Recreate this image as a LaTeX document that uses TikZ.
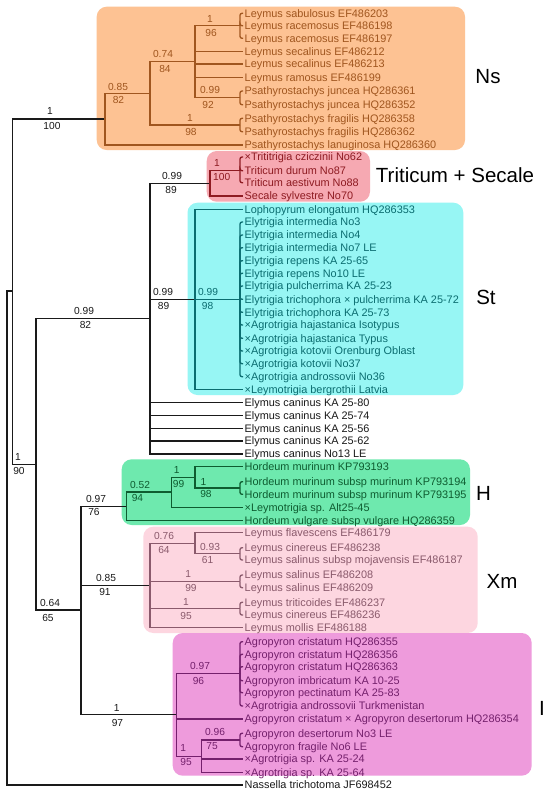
\documentclass[tikz,border=0pt]{standalone}
\usepackage{fontspec}
\setmainfont{Liberation Sans}
\definecolor{nsbox}{HTML}{FDC293}
\definecolor{nsc}{HTML}{A0561F}
\definecolor{tsbox}{HTML}{F6A9B2}
\definecolor{tsc}{HTML}{8E1B22}
\definecolor{stbox}{HTML}{97F6F4}
\definecolor{stc}{HTML}{0B6D70}
\definecolor{hbox}{HTML}{6EE9AE}
\definecolor{hc}{HTML}{0E5C30}
\definecolor{xmbox}{HTML}{FDD6E0}
\definecolor{xmc}{HTML}{8A5A6C}
\definecolor{ibox}{HTML}{EE9BDC}
\definecolor{ic}{HTML}{74206C}
\definecolor{blk}{HTML}{1A1A1A}
\tikzset{
  leaf/.style={anchor=west, inner xsep=1.5pt, inner ysep=0pt, text height=7.8pt, text depth=0pt, font=\fontsize{10.9}{12}\selectfont},
  sup/.style={inner sep=0pt, font=\fontsize{10.2}{12}\selectfont},
  clade/.style={inner sep=0pt, font=\fontsize{20.5}{24}\selectfont, text=black},
  br/.style={rounded corners=2pt},
  cbox/.style={rounded corners=10pt},
  edge/.style={line width=1.3pt}
}
\begin{document}
\begin{tikzpicture}[x=1pt,y=-1pt]
\useasboundingbox[fill=white] (0,0) rectangle (550,796);
% clade boxes
\fill[nsbox,cbox] (96.7,6.7) rectangle (465,150);
\fill[tsbox,cbox] (206.7,151) rectangle (370,201.7);
\fill[stbox,cbox] (187.5,202.7) rectangle (463.3,395);
\fill[hbox,cbox] (121.7,459.3) rectangle (470,525);
\fill[xmbox,cbox] (143.3,526.7) rectangle (477.7,633);
\fill[ibox,cbox] (172.7,633) rectangle (531.7,775.7);
% clade labels
\node[clade] (cNs) at (488,77) {Ns};
\node[clade] (cTS) at (455,175) {Triticum + Secale};
\node[clade] (cSt) at (486,297) {St};
\node[clade] (cH) at (483.5,493.3) {H};
\node[clade] (cXm) at (502,581.7) {Xm};
\node[clade] (cI) at (542,708.3) {I};
% leaves
\node[leaf,text=nsc] (l1) at (243,13.3) {Leymus sabulosus EF486203};
\node[leaf,text=nsc] (l2) at (243,25.7) {Leymus racemosus EF486198};
\node[leaf,text=nsc] (l3) at (243,38.3) {Leymus racemosus EF486197};
\node[leaf,text=nsc] (l4) at (243,51.7) {Leymus secalinus EF486212};
\node[leaf,text=nsc] (l5) at (243,64) {Leymus secalinus EF486213};
\node[leaf,text=nsc] (l6) at (243,77.3) {Leymus ramosus EF486199};
\node[leaf,text=nsc] (l7) at (243,91) {Psathyrostachys juncea HQ286361};
\node[leaf,text=nsc] (l8) at (243,104.7) {Psathyrostachys juncea HQ286352};
\node[leaf,text=nsc] (l9) at (243,118.3) {Psathyrostachys fragilis HQ286358};
\node[leaf,text=nsc] (l10) at (243,131.7) {Psathyrostachys fragilis HQ286362};
\node[leaf,text=nsc] (l11) at (243,145) {Psathyrostachys lanuginosa HQ286360};
\node[leaf,text=tsc] (l12) at (243,157) {×Trititrigia cziczinii No62};
\node[leaf,text=tsc] (l13) at (243,170.7) {Triticum durum No87};
\node[leaf,text=tsc] (l14) at (243,182.7) {Triticum aestivum No88};
\node[leaf,text=tsc] (l15) at (243,196) {Secale sylvestre No70};
\node[leaf,text=stc] (l16) at (243,209.7) {Lophopyrum elongatum HQ286353};
\node[leaf,text=stc] (l17) at (243,222) {Elytrigia intermedia No3};
\node[leaf,text=stc] (l18) at (243,235) {Elytrigia intermedia No4};
\node[leaf,text=stc] (l19) at (243,247.7) {Elytrigia intermedia No7 LE};
\node[leaf,text=stc] (l20) at (243,260.7) {Elytrigia repens KA 25-65};
\node[leaf,text=stc] (l21) at (243,273.3) {Elytrigia repens No10 LE};
\node[leaf,text=stc] (l22) at (243,286) {Elytrigia pulcherrima KA 25-23};
\node[leaf,text=stc] (l23) at (243,299.3) {Elytrigia trichophora × pulcherrima KA 25-72};
\node[leaf,text=stc] (l24) at (243,312.3) {Elytrigia trichophora KA 25-73};
\node[leaf,text=stc] (l25) at (243,325) {×Agrotrigia hajastanica Isotypus};
\node[leaf,text=stc] (l26) at (243,338.3) {×Agrotrigia hajastanica Typus};
\node[leaf,text=stc] (l27) at (243,351) {×Agrotrigia kotovii Orenburg Oblast};
\node[leaf,text=stc] (l28) at (243,363.7) {×Agrotrigia kotovii No37};
\node[leaf,text=stc] (l29) at (243,376.7) {×Agrotrigia androssovii No36};
\node[leaf,text=stc] (l30) at (243,389.3) {×Leymotrigia bergrothii Latvia};
\node[leaf,text=blk] (l31) at (243,402.7) {Elymus caninus KA 25-80};
\node[leaf,text=blk] (l32) at (243,415.7) {Elymus caninus KA 25-74};
\node[leaf,text=blk] (l33) at (243,428.3) {Elymus caninus KA 25-56};
\node[leaf,text=blk] (l34) at (243,441) {Elymus caninus KA 25-62};
\node[leaf,text=blk] (l35) at (243,454) {Elymus caninus No13 LE};
\node[leaf,text=hc] (l36) at (243,466.7) {Hordeum murinum KP793193};
\node[leaf,text=hc] (l37) at (243,481.7) {Hordeum murinum subsp murinum KP793194};
\node[leaf,text=hc] (l38) at (243,494.3) {Hordeum murinum subsp murinum KP793195};
\node[leaf,text=hc] (l39) at (243,507.3) {×Leymotrigia sp. Alt25-45};
\node[leaf,text=hc] (l40) at (243,520.3) {Hordeum vulgare subsp vulgare HQ286359};
\node[leaf,text=xmc] (l41) at (243,532.7) {Leymus flavescens EF486179};
\node[leaf,text=xmc] (l42) at (243,547.7) {Leymus cinereus EF486238};
\node[leaf,text=xmc] (l43) at (243,560) {Leymus salinus subsp mojavensis EF486187};
\node[leaf,text=xmc] (l44) at (243,575) {Leymus salinus EF486208};
\node[leaf,text=xmc] (l45) at (243,587.7) {Leymus salinus EF486209};
\node[leaf,text=xmc] (l46) at (243,602.3) {Leymus triticoides EF486237};
\node[leaf,text=xmc] (l47) at (243,615) {Leymus cinereus EF486236};
\node[leaf,text=xmc] (l48) at (243,627.7) {Leymus mollis EF486188};
\node[leaf,text=ic] (l49) at (243,641.7) {Agropyron cristatum HQ286355};
\node[leaf,text=ic] (l50) at (243,654.3) {Agropyron cristatum HQ286356};
\node[leaf,text=ic] (l51) at (243,666.7) {Agropyron cristatum HQ286363};
\node[leaf,text=ic] (l52) at (243,680.7) {Agropyron imbricatum KA 10-25};
\node[leaf,text=ic] (l53) at (243,692.7) {Agropyron pectinatum KA 25-83};
\node[leaf,text=ic] (l54) at (243,706) {×Agrotrigia androssovii Turkmenistan};
\node[leaf,text=ic] (l55) at (243,719) {Agropyron cristatum × Agropyron desertorum HQ286354};
\node[leaf,text=ic] (l56) at (243,733.3) {Agropyron desertorum No3 LE};
\node[leaf,text=ic] (l57) at (243,746.7) {Agropyron fragile No6 LE};
\node[leaf,text=ic] (l58) at (243,759) {×Agrotrigia sp. KA 25-24};
\node[leaf,text=ic] (l59) at (243,772.3) {×Agrotrigia sp. KA 25-64};
\node[leaf,text=blk] (l60) at (243,785) {Nassella trichotoma JF698452};
% internal nodes
\coordinate (root) at (7,538);
\coordinate (A) at (12.7,291);
\coordinate (nNs) at (105,119);
\coordinate (nE) at (150,93.3);
\coordinate (nF) at (195,61.7);
\coordinate (nL) at (240,25.7);
\coordinate (nJ) at (240,97.8);
\coordinate (nFr) at (240,125);
\coordinate (B) at (36,464.5);
\coordinate (C) at (150,318.7);
\coordinate (TS) at (210,183.3);
\coordinate (nT) at (240,170.7);
\coordinate (St) at (195,299.5);
\coordinate (nEl) at (240,299.3);
\coordinate (D) at (81,610);
\coordinate (H) at (126.7,506.5);
\coordinate (nH1) at (171.7,492);
\coordinate (nH2) at (195,477.3);
\coordinate (nH3) at (240,488);
\coordinate (Xm) at (150,585.8);
\coordinate (nX1) at (195,543.3);
\coordinate (nX2) at (240,553.8);
\coordinate (nX3) at (240,581.3);
\coordinate (nX4) at (240,608.7);
\coordinate (I) at (176.7,714.3);
\coordinate (nI1) at (240,673.8);
\coordinate (nI2) at (201.7,756.2);
\coordinate (nI3) at (240,740);
% black branches
\begin{scope}[edge,draw=blk]
\draw (root) |- (A);
\draw (root) |- (l60.west);
\draw (A) |- (nNs);
\draw (A) |- (B);
\draw (B) |- (C);
\draw (B) |- (D);
\draw (C) |- (TS);
\draw (C) |- (St);
\foreach \i in {31,...,35} \draw (C) |- (l\i.west);
\draw (D) |- (H);
\draw (D) |- (Xm);
\draw (D) |- (I);
\end{scope}
% Ns
\begin{scope}[edge,draw=nsc]
\draw (nNs) |- (nE);
\draw (nNs) |- (l11.west);
\draw (nE) |- (nF);
\draw (nE) |- (nFr);
\draw (nF) |- (nL);
\foreach \i in {4,5,6} \draw (nF) |- (l\i.west);
\draw (nF) |- (nJ);
\foreach \i in {1,2,3} \draw[br] (nL) |- (l\i.west);
\foreach \i in {7,8} \draw[br] (nJ) |- (l\i.west);
\foreach \i in {9,10} \draw[br] (nFr) |- (l\i.west);
\end{scope}
% Triticum + Secale
\begin{scope}[edge,draw=tsc]
\draw (TS) |- (nT);
\draw (TS) |- (l15.west);
\foreach \i in {12,13,14} \draw[br] (nT) |- (l\i.west);
\end{scope}
% St
\begin{scope}[edge,draw=stc]
\draw (St) |- (l16.west);
\draw (St) |- (nEl);
\draw (St) |- (l30.west);
\foreach \i in {17,...,29} \draw[br] (nEl) |- (l\i.west);
\end{scope}
% H
\begin{scope}[edge,draw=hc]
\draw (H) |- (nH1);
\draw (H) |- (l40.west);
\draw (nH1) |- (nH2);
\draw (nH1) |- (l39.west);
\draw (nH2) |- (l36.west);
\draw (nH2) |- (nH3);
\foreach \i in {37,38} \draw[br] (nH3) |- (l\i.west);
\end{scope}
% Xm
\begin{scope}[edge,draw=xmc]
\draw (Xm) |- (nX1);
\draw (Xm) |- (nX3);
\draw (Xm) |- (nX4);
\draw (Xm) |- (l48.west);
\draw (nX1) |- (l41.west);
\draw (nX1) |- (nX2);
\foreach \i in {42,43} \draw[br] (nX2) |- (l\i.west);
\foreach \i in {44,45} \draw[br] (nX3) |- (l\i.west);
\foreach \i in {46,47} \draw[br] (nX4) |- (l\i.west);
\end{scope}
% I
\begin{scope}[edge,draw=ic]
\draw (I) |- (nI1);
\draw (I) |- (l55.west);
\draw (I) |- (nI2);
\foreach \i in {49,...,54} \draw[br] (nI1) |- (l\i.west);
\draw (nI2) |- (nI3);
\foreach \i in {58,59} \draw (nI2) |- (l\i.west);
\foreach \i in {56,57} \draw[br] (nI3) |- (l\i.west);
\end{scope}
% support values
\begin{scope}[every node/.style={sup}]
\node[text=blk] (sA1) at (50,111.3) {1};
\node[text=blk] (sA2) at (52,126.3) {100};
\node[text=nsc] (sN1) at (118,86.7) {0.85};
\node[text=nsc] (sN2) at (118.5,100) {82};
\node[text=nsc] (sE1) at (163,54.3) {0.74};
\node[text=nsc] (sE2) at (165,69.3) {84};
\node[text=nsc] (sL1) at (210,19) {1};
\node[text=nsc] (sL2) at (211,32.7) {96};
\node[text=nsc] (sJ1) at (210,90) {0.99};
\node[text=nsc] (sJ2) at (208,105) {92};
\node[text=nsc] (sF1) at (190,118.3) {1};
\node[text=nsc] (sF2) at (191,131.7) {98};
\node[text=blk] (sT1) at (172,175.7) {0.99};
\node[text=blk] (sT2) at (171,190) {89};
\node[text=tsc] (sU1) at (217,163.3) {1};
\node[text=tsc] (sU2) at (221.7,176.7) {100};
\node[text=blk] (sS1) at (163,292.3) {0.99};
\node[text=blk] (sS2) at (163.5,305.7) {89};
\node[text=stc] (sR1) at (208,292.3) {0.99};
\node[text=stc] (sR2) at (207.5,305.7) {98};
\node[text=blk] (sC1) at (84,311) {0.99};
\node[text=blk] (sC2) at (85.5,325) {82};
\node[text=blk] (sB1) at (18,456.7) {1};
\node[text=blk] (sB2) at (19,471) {90};
\node[text=blk] (sH1) at (96,499.3) {0.97};
\node[text=blk] (sH2) at (94,512.3) {76};
\node[text=hc] (sH3) at (140,485) {0.52};
\node[text=hc] (sH4) at (137.5,498.3) {94};
\node[text=hc] (sH5) at (176.7,470) {1};
\node[text=hc] (sH6) at (178.5,484.3) {99};
\node[text=hc] (sH7) at (203.5,481.7) {1};
\node[text=hc] (sH8) at (206,494.3) {98};
\node[text=blk] (sX1) at (106,578.3) {0.85};
\node[text=blk] (sX2) at (105,592.3) {91};
\node[text=xmc] (sX3) at (164,536) {0.76};
\node[text=xmc] (sX4) at (164,550) {64};
\node[text=xmc] (sX5) at (210,547.3) {0.93};
\node[text=xmc] (sX6) at (207.5,560) {61};
\node[text=xmc] (sX7) at (188.3,574.3) {1};
\node[text=xmc] (sX8) at (191,587.7) {99};
\node[text=xmc] (sX9) at (186,601.7) {1};
\node[text=xmc] (sX10) at (186,615.7) {95};
\node[text=blk] (sD1) at (50,603.3) {0.64};
\node[text=blk] (sD2) at (48,617.5) {65};
\node[text=blk] (sI1) at (116.7,708.3) {1};
\node[text=blk] (sI2) at (117.5,722.7) {97};
\node[text=ic] (sI3) at (200,666) {0.97};
\node[text=ic] (sI4) at (198.5,680.7) {96};
\node[text=ic] (sI5) at (183.3,747.7) {1};
\node[text=ic] (sI6) at (186,761.7) {95};
\node[text=ic] (sI7) at (215,732.3) {0.96};
\node[text=ic] (sI8) at (212,745.7) {75};
\end{scope}
\end{tikzpicture}
\end{document}
